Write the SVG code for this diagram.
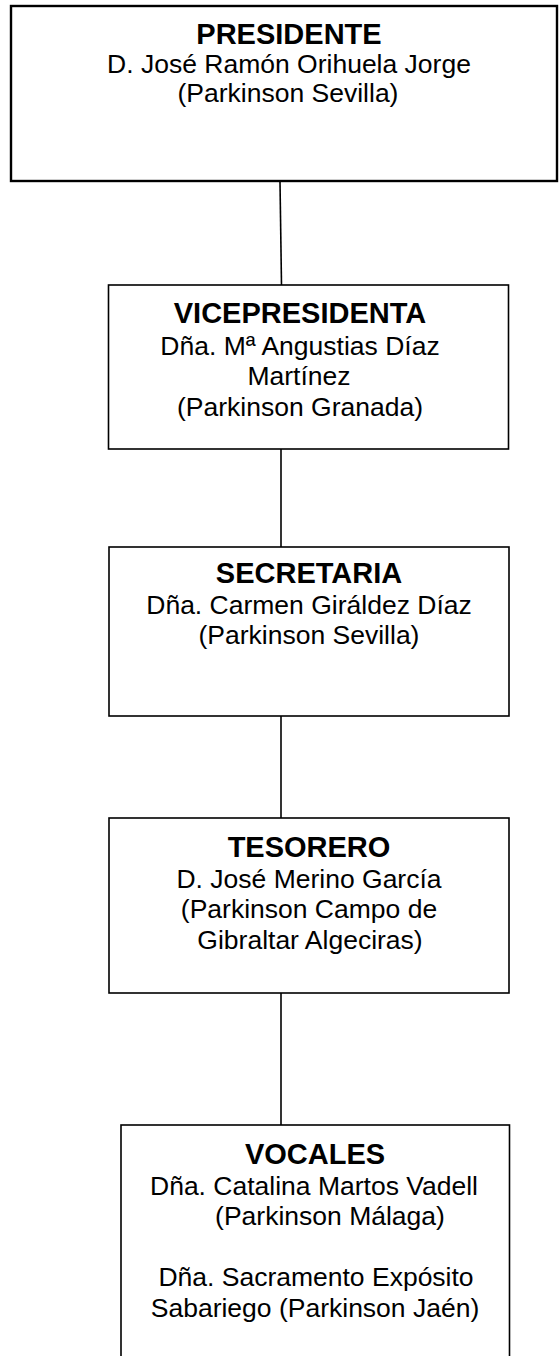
<svg xmlns="http://www.w3.org/2000/svg" width="559" height="1356" viewBox="0 0 559 1356">
<style>
  .box { fill: #ffffff; stroke: #000000; stroke-width: 1.6; }
  .box-main { fill: #ffffff; stroke: #000000; stroke-width: 2.4; }
  .title { font-family: "Liberation Sans", Arial, sans-serif; font-weight: bold; font-size: 29px; fill: #000000; text-anchor: middle; }
  .body { font-family: "Liberation Sans", Arial, sans-serif; font-size: 26.5px; fill: #000000; text-anchor: middle; }
  .conn { stroke: #000000; stroke-width: 1.6; fill: none; }
</style>
<rect width="559" height="1356" fill="#ffffff"/>
<g id="connectors">
  <line class="conn" x1="280" y1="182" x2="281.5" y2="285"/>
  <line class="conn" x1="281" y1="449" x2="281" y2="547"/>
  <line class="conn" x1="281" y1="716" x2="281" y2="818"/>
  <line class="conn" x1="281" y1="993" x2="281" y2="1125"/>
</g>
<g id="presidente">
  <rect class="box-main" x="11" y="6" width="546" height="175"/>
  <text class="title" x="289" y="44">PRESIDENTE</text>
  <text class="body" x="289" y="73">D. José Ramón Orihuela Jorge</text>
  <text class="body" x="288" y="102">(Parkinson Sevilla)</text>
</g>
<g id="vicepresidenta">
  <rect class="box" x="108.5" y="285" width="400" height="164"/>
  <text class="title" x="300" y="323">VICEPRESIDENTA</text>
  <text class="body" x="300" y="354.5">Dña. Mª Angustias Díaz</text>
  <text class="body" x="299" y="385">Martínez</text>
  <text class="body" x="300" y="415.5">(Parkinson Granada)</text>
</g>
<g id="secretaria">
  <rect class="box" x="109" y="547" width="400" height="169"/>
  <text class="title" x="309" y="583">SECRETARIA</text>
  <text class="body" x="309" y="613.5">Dña. Carmen Giráldez Díaz</text>
  <text class="body" x="309" y="644">(Parkinson Sevilla)</text>
</g>
<g id="tesorero">
  <rect class="box" x="109" y="818" width="400" height="175"/>
  <text class="title" x="309" y="857">TESORERO</text>
  <text class="body" x="309" y="887.5">D. José Merino García</text>
  <text class="body" x="309" y="918">(Parkinson Campo de</text>
  <text class="body" x="310" y="948.5">Gibraltar Algeciras)</text>
</g>
<g id="vocales">
  <rect class="box" x="121" y="1125" width="388.5" height="260"/>
  <text class="title" x="315" y="1164">VOCALES</text>
  <text class="body" x="314" y="1194.5">Dña. Catalina Martos Vadell</text>
  <text class="body" x="330" y="1225">(Parkinson Málaga)</text>
  <text class="body" x="316" y="1286">Dña. Sacramento Expósito</text>
  <text class="body" x="315" y="1316.5">Sabariego (Parkinson Jaén)</text>
</g>
</svg>
